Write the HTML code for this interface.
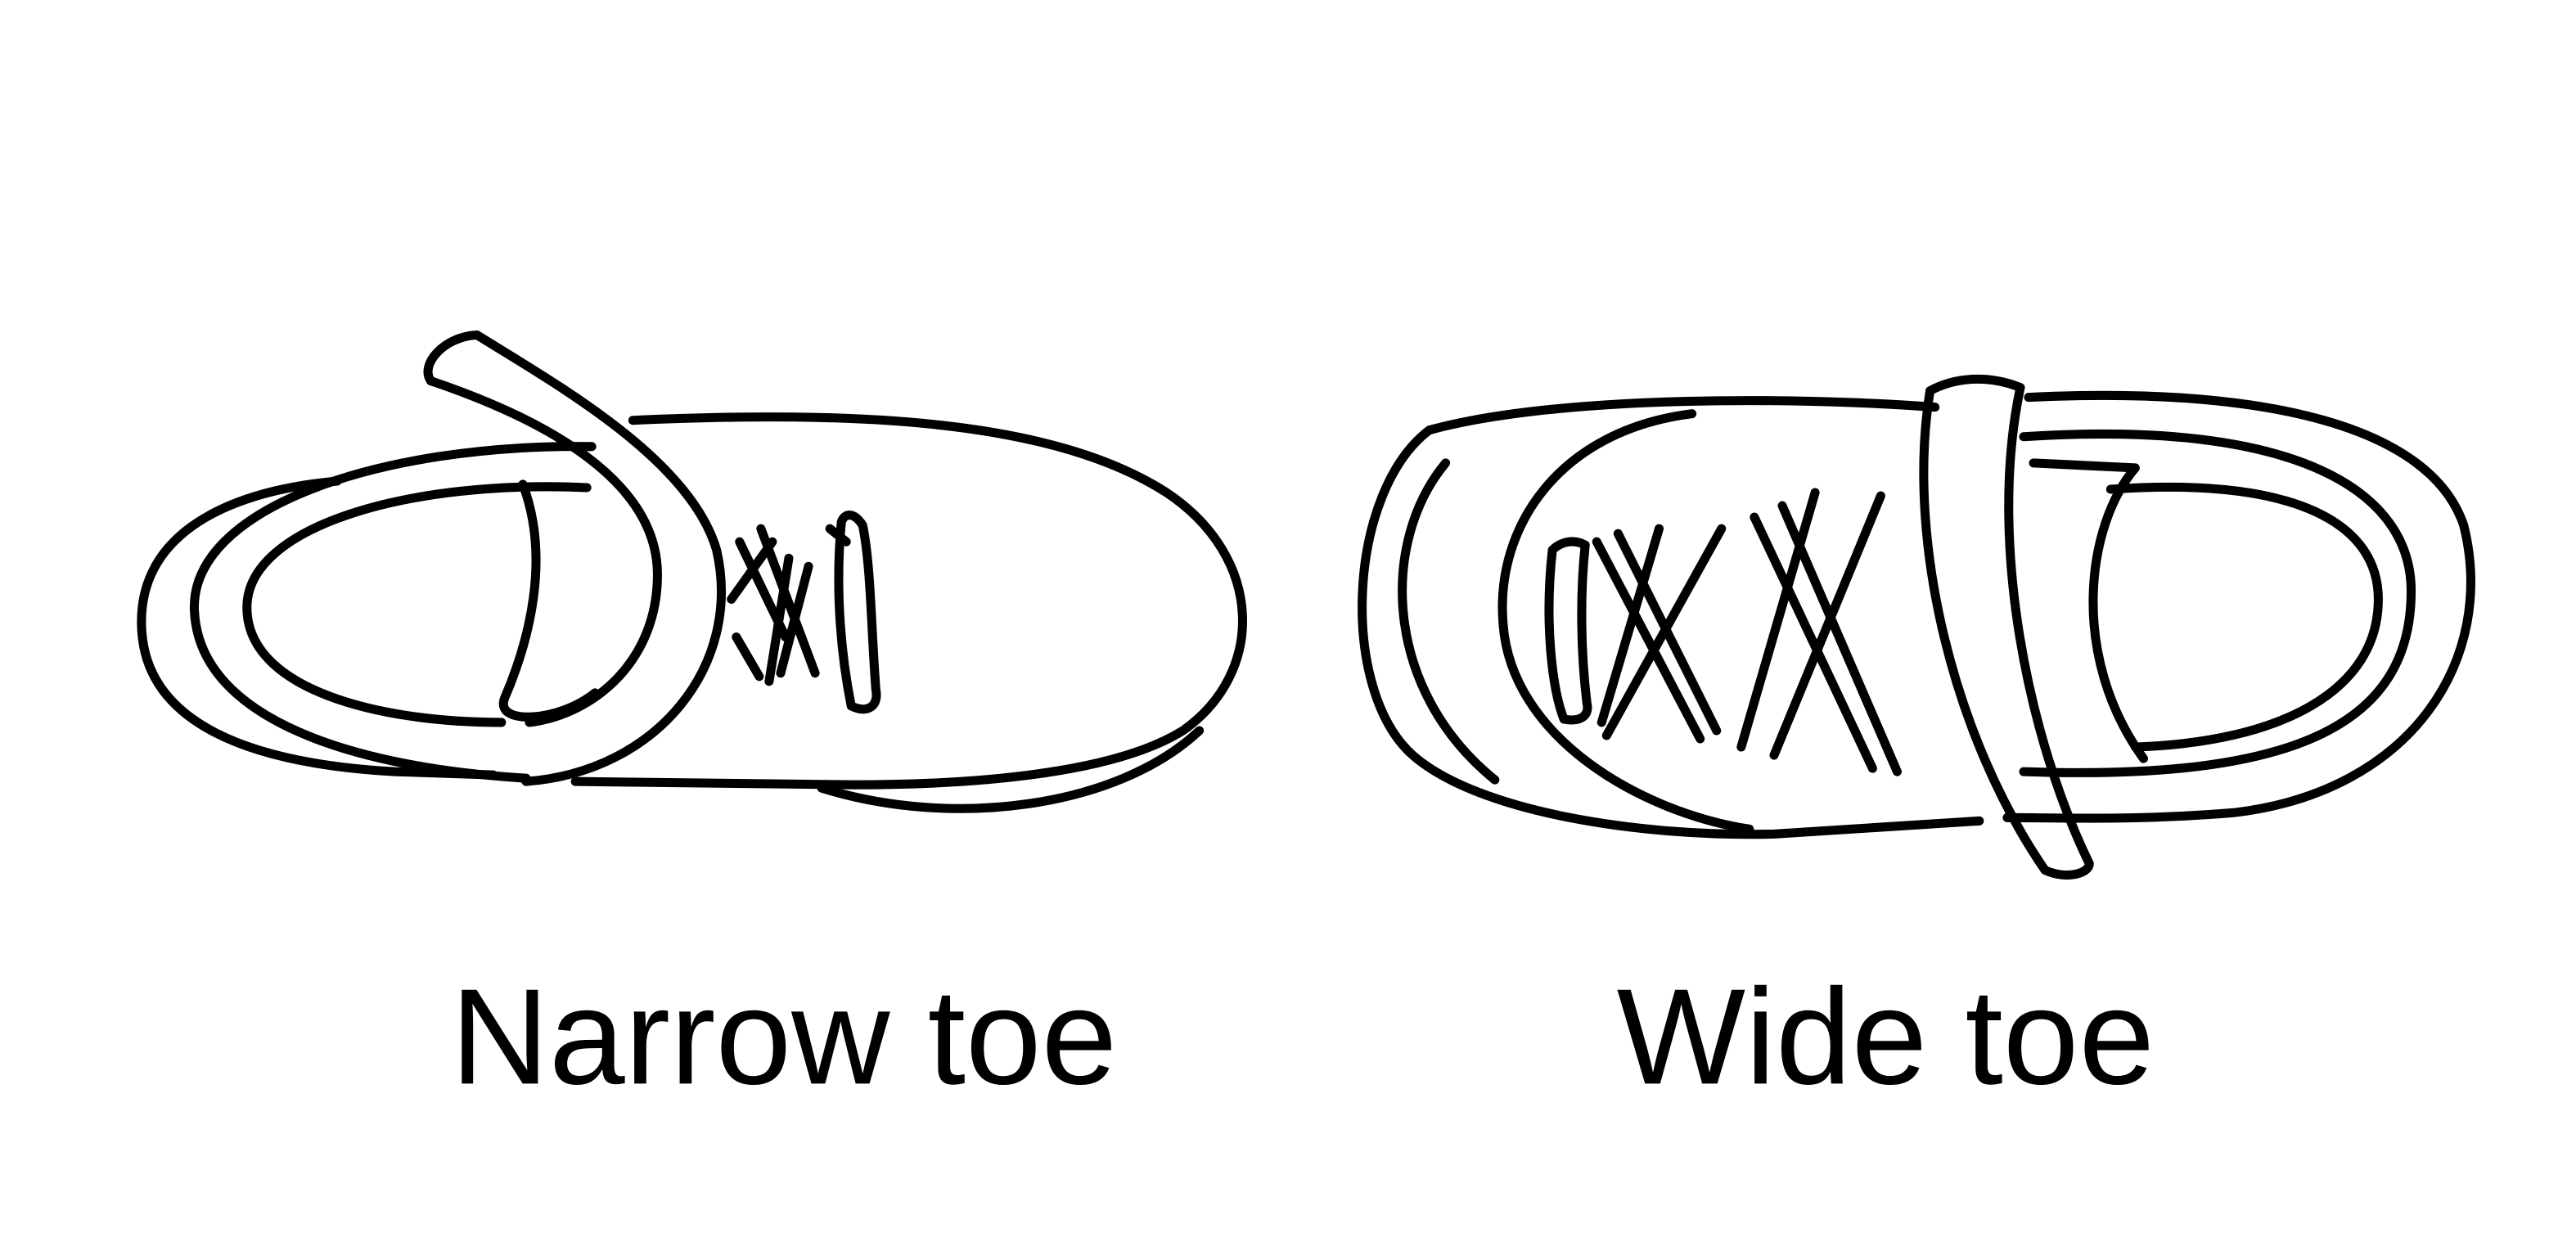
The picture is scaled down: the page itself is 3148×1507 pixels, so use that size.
<!DOCTYPE html>
<html><head><meta charset="utf-8"><style>
html,body{margin:0;padding:0;background:#fff;}
svg{display:block;}
</style></head><body>
<svg width="3148" height="1507" viewBox="0 0 1568 751" xmlns="http://www.w3.org/2000/svg">
<rect width="1568" height="751" fill="#fff"/>
<g fill="none" stroke="#000" stroke-width="5.5" stroke-linecap="round" stroke-linejoin="round">
<!-- Narrow shoe -->
<path d="M385,256 C520,250 640,255 710,300 C770,340 770,410 720,445 C680,470 600,478 520,478 L350,476"/>
<path d="M500,480 C580,505 680,492 730,445"/>
<path d="M205,293 C130,300 82,330 86,385 C90,440 150,465 240,470 L300,472"/>
<path d="M360,272 C230,270 115,310 118,372 C121,440 220,468 320,474"/>
<path d="M357,297 C250,292 150,320 150,370 C150,420 230,440 305,440"/>
<path d="M318,295 C335,340 322,390 307,425 C300,442 340,440 362,422"/>
<path d="M290,204 C340,235 420,280 436,335 C452,405 400,470 320,476"/>
<path d="M262,232 C330,255 400,292 400,350 C400,402 362,435 322,440"/>
<path d="M262,232 C255,222 270,205 290,204"/>
<path d="M450,330 L478,388 M445,365 L470,330 M463,322 L496,410 M448,388 L462,412 M480,340 L468,415 M492,345 L475,410 M505,322 L515,330 M512,318 C508,360 512,400 518,430 C528,435 535,430 533,420 C530,380 530,345 525,320 C520,312 514,312 512,318"/>
<!-- Wide shoe -->
<path d="M1178,248 C1100,242 950,240 870,262 C820,300 815,420 860,460 C900,495 1000,510 1080,508 L1205,500"/>
<path d="M1030,252 C950,262 910,320 915,380 C920,450 1000,495 1065,505"/>
<path d="M880,282 C840,330 842,420 910,475"/>
<path d="M1235,242 C1380,235 1480,260 1500,320 C1520,400 1470,482 1360,495 C1300,500 1250,498 1222,498"/>
<path d="M1232,266 C1400,255 1468,300 1468,360 C1468,440 1400,476 1232,470"/>
<path d="M1238,282 L1300,285 C1270,320 1260,400 1305,462"/>
<path d="M1285,298 C1400,290 1448,320 1448,365 C1448,420 1390,452 1300,455"/>
<path d="M1175,238 C1160,330 1190,450 1245,530 C1258,536 1272,532 1272,526 C1235,450 1210,330 1230,236 C1210,228 1190,230 1175,238"/>
<path d="M945,335 C940,380 945,420 952,438 C962,440 968,436 966,428 C962,395 962,360 965,332 C958,328 950,330 945,335"/>
<path d="M972,330 L1035,450 M985,325 L1045,445 M1010,322 L975,440 M1048,322 L978,448"/>
<path d="M1068,315 L1140,468 M1085,308 L1155,470 M1105,300 L1060,455 M1145,302 L1080,460"/>
</g>
<g font-family="'Liberation Sans', sans-serif" font-size="83" fill="#000" text-anchor="middle">
<text x="477" y="660">Narrow toe</text>
<text x="1148" y="660">Wide toe</text>
</g>
</svg>
</body></html>
